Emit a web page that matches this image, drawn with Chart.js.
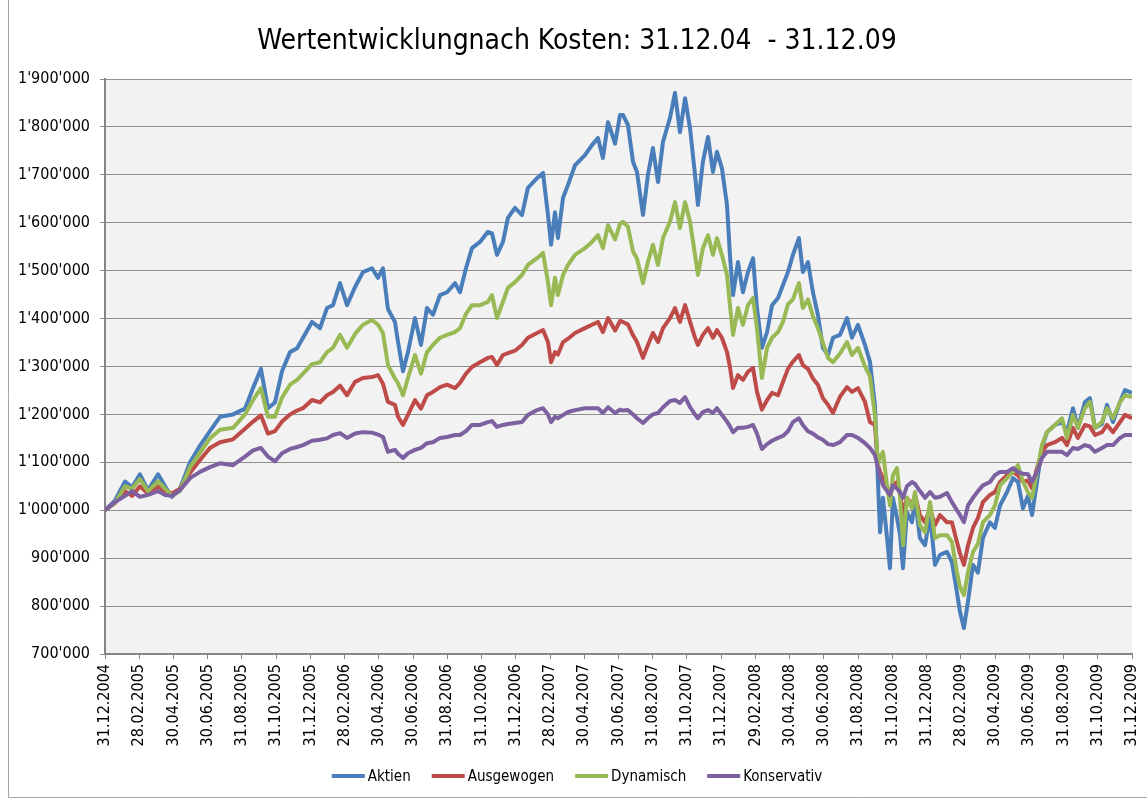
<!DOCTYPE html>
<html>
<head>
<meta charset="utf-8">
<title>Wertentwicklung nach Kosten</title>
<script src="https://cdn.jsdelivr.net/npm/chart.js@4.4.1/dist/chart.umd.min.js"></script>
<style>
  html, body { margin: 0; padding: 0; background: #fff; }
  #wrap { width: 1147px; height: 800px; position: relative; }
</style>
</head>
<body>
<div id="wrap"><canvas id="chart" width="1147" height="800"></canvas></div>
<script>
// Portfolio values in CHF thousands, x = months since 31.12.2004
const months = [
  0, 0.58, 1.17, 1.58, 2.04, 2.51, 3.10, 3.51, 3.91, 4.38,
  4.97, 5.55, 6.13, 6.72, 7.48, 8.18, 8.65, 9.11, 9.52, 9.93,
  10.34, 10.81, 11.22, 11.57, 12.09, 12.56, 12.97, 13.32, 13.73, 14.14,
  14.61, 15.07, 15.60, 15.95, 16.24, 16.53, 16.94, 17.12, 17.41, 17.70,
  18.11, 18.46, 18.81, 19.16, 19.57, 19.98, 20.45, 20.74, 21.09, 21.44,
  21.91, 22.37, 22.61, 22.90, 23.25, 23.54, 23.95, 24.36, 24.71, 25.24,
  25.59, 25.88, 26.06, 26.29, 26.46, 26.76, 27.05, 27.46, 28.04, 28.45,
  28.80, 29.09, 29.39, 29.80, 30.09, 30.26, 30.55, 30.85, 31.08, 31.43,
  31.72, 32.01, 32.31, 32.60, 33.01, 33.30, 33.59, 33.89, 34.18, 34.47,
  34.64, 34.93, 35.23, 35.52, 35.75, 36.04, 36.34, 36.51, 36.69, 36.98,
  37.27, 37.56, 37.86, 38.09, 38.38, 38.68, 38.97, 39.32, 39.61, 39.90,
  40.19, 40.54, 40.77, 41.07, 41.36, 41.65, 41.94, 42.24, 42.53, 42.94,
  43.35, 43.64, 43.99, 44.40, 44.69, 44.98, 45.16, 45.28, 45.45, 45.69,
  45.86, 46.03, 46.27, 46.45, 46.62, 46.85, 47.15, 47.32, 47.61, 47.91,
  48.20, 48.49, 48.78, 49.19, 49.48, 49.77, 49.95, 50.18, 50.42, 50.71,
  51.00, 51.29, 51.70, 51.99, 52.29, 52.70, 53.05, 53.34, 53.63, 53.92,
  54.16, 54.45, 54.74, 55.03, 55.50, 55.91, 56.20, 56.55, 56.84, 57.25,
  57.54, 57.84, 58.25, 58.54, 58.89, 59.30, 59.59, 60
];

const aktien = [
  1000, 1020, 1060, 1048, 1075, 1042, 1075, 1050, 1028, 1045,
  1100, 1135, 1165, 1195, 1200, 1212, 1255, 1295, 1213, 1225,
  1290, 1330, 1338, 1360, 1393, 1380, 1422, 1428, 1474, 1428,
  1466, 1497, 1505, 1485, 1505, 1420, 1393, 1351, 1290, 1330,
  1401, 1345, 1422, 1408, 1449, 1455, 1474, 1455, 1505, 1547,
  1560, 1581, 1578, 1533, 1560, 1610, 1631, 1616, 1673, 1693,
  1704, 1616, 1554, 1622, 1568, 1652, 1679, 1720, 1741, 1762,
  1777, 1735, 1810, 1765, 1825, 1825, 1804, 1727, 1706, 1616,
  1700, 1756, 1685, 1769, 1819, 1871, 1789, 1860, 1797, 1700,
  1637, 1727, 1779, 1706, 1748, 1714, 1637, 1533, 1449, 1518,
  1455, 1497, 1526, 1422, 1339, 1372, 1428, 1443, 1470, 1497,
  1533, 1568, 1497, 1518, 1455, 1408, 1339, 1324, 1360, 1366,
  1401, 1360, 1387, 1345, 1310, 1220, 1058, 954, 1026, 942,
  879, 1026, 984, 948, 879, 996, 975, 1026, 942, 927,
  990, 886, 907, 913, 892, 829, 788, 754, 810, 886,
  870, 942, 975, 963, 1010, 1038, 1067, 1059, 1004, 1030,
  990, 1059, 1130, 1163, 1178, 1184, 1163, 1213, 1172, 1226,
  1234, 1172, 1180, 1220, 1184, 1226, 1251, 1245
];

const ausgewogen = [
  1000, 1015, 1040, 1030, 1050, 1035, 1050, 1040, 1035, 1045,
  1078, 1105, 1130, 1142, 1148, 1170, 1185, 1198, 1160, 1165,
  1185, 1200, 1208, 1213, 1230, 1225, 1240, 1247, 1260, 1240,
  1268, 1276, 1278, 1282, 1264, 1226, 1220, 1195, 1178, 1199,
  1230, 1212, 1240, 1247, 1257, 1262, 1255, 1266, 1285, 1299,
  1309, 1318, 1320, 1303, 1324, 1328, 1333, 1345, 1360, 1370,
  1376, 1351, 1309, 1330, 1325, 1351, 1358, 1370, 1380, 1387,
  1393, 1372, 1401, 1375, 1395, 1393, 1388, 1365, 1351, 1318,
  1345, 1370, 1351, 1380, 1401, 1422, 1393, 1428, 1393, 1360,
  1345, 1366, 1380, 1360, 1376, 1360, 1330, 1299, 1255, 1282,
  1272, 1289, 1297, 1247, 1210, 1230, 1245, 1240, 1268, 1295,
  1310, 1324, 1303, 1295, 1275, 1262, 1234, 1220, 1203, 1237,
  1257, 1247, 1255, 1226, 1184, 1178, 1094, 1080, 1067, 1050,
  1026, 1052, 1059, 1035, 990, 1026, 1010, 1032, 990, 975,
  1004, 969, 990, 975, 975, 934, 910, 886, 927, 963,
  984, 1017, 1032, 1038, 1059, 1073, 1080, 1073, 1059, 1062,
  1046, 1088, 1122, 1136, 1142, 1151, 1136, 1172, 1151, 1178,
  1175, 1157, 1163, 1178, 1163, 1184, 1199, 1192
];

const dynamisch = [
  1000, 1015, 1050, 1045, 1065, 1040, 1060, 1045, 1030, 1040,
  1090, 1120, 1150, 1168, 1172, 1200, 1230, 1255, 1195, 1195,
  1235, 1262, 1272, 1285, 1305, 1309, 1330, 1339, 1366, 1339,
  1368, 1387, 1397, 1387, 1370, 1303, 1275, 1265, 1240, 1276,
  1324, 1285, 1330, 1345, 1360, 1366, 1372, 1380, 1410, 1428,
  1428, 1435, 1449, 1401, 1435, 1464, 1476, 1491, 1512, 1526,
  1537, 1476, 1428, 1485, 1449, 1491, 1512, 1533, 1547, 1560,
  1574, 1547, 1595, 1565, 1598, 1602, 1592, 1540, 1525, 1474,
  1518, 1554, 1512, 1568, 1602, 1643, 1589, 1643, 1602, 1533,
  1491, 1547, 1574, 1533, 1568, 1533, 1491, 1428, 1366, 1422,
  1387, 1428, 1443, 1380, 1276, 1339, 1360, 1372, 1393, 1430,
  1440, 1474, 1422, 1440, 1405, 1380, 1350, 1318, 1309, 1327,
  1351, 1324, 1339, 1300, 1280, 1199, 1094, 1110, 1122, 1050,
  1010, 1073, 1088, 1026, 927, 1026, 1004, 1038, 969, 954,
  1017, 942, 948, 948, 934, 871, 840, 823, 871, 913,
  930, 975, 990, 1010, 1052, 1067, 1080, 1094, 1060, 1038,
  1026, 1080, 1136, 1163, 1178, 1192, 1151, 1199, 1172, 1213,
  1226, 1172, 1184, 1213, 1192, 1226, 1240, 1236
];

const konservativ = [
  1000, 1017, 1030, 1040, 1028, 1032, 1040, 1032, 1030, 1042,
  1067, 1080, 1090, 1098, 1094, 1112, 1125, 1130, 1112, 1102,
  1119, 1128, 1132, 1136, 1145, 1147, 1150, 1157, 1161, 1151,
  1160, 1163, 1162, 1158, 1153, 1122, 1126, 1118, 1109, 1119,
  1126, 1130, 1140, 1142, 1151, 1153, 1157, 1157, 1165, 1178,
  1178, 1184, 1186, 1174, 1178, 1180, 1182, 1184, 1199, 1209,
  1213, 1200, 1184, 1195, 1192, 1199, 1205, 1209, 1213, 1213,
  1213, 1203, 1215, 1203, 1210, 1208, 1209, 1200, 1192, 1182,
  1192, 1200, 1203, 1215, 1228, 1230, 1224, 1236, 1215, 1200,
  1192, 1205, 1209, 1203, 1213, 1199, 1185, 1175, 1163, 1172,
  1172, 1174, 1178, 1160, 1128, 1138, 1145, 1151, 1155, 1165,
  1184, 1192, 1178, 1165, 1160, 1152, 1147, 1138, 1136, 1142,
  1157, 1157, 1151, 1140, 1130, 1115, 1088, 1070, 1052, 1040,
  1032, 1052, 1045, 1038, 1026, 1050, 1059, 1055, 1040, 1026,
  1038, 1026, 1028, 1036, 1017, 1000, 990, 975, 1010, 1026,
  1040, 1052, 1059, 1073, 1080, 1080, 1088, 1080, 1076, 1075,
  1059, 1080, 1109, 1122, 1122, 1122, 1115, 1130, 1128, 1136,
  1133, 1122, 1130, 1136, 1136, 1151, 1157, 1157
];

// tick labels every 2 months
const tickLabels = [
  '31.12.2004', '28.02.2005', '30.04.2005', '30.06.2005', '31.08.2005', '31.10.2005',
  '31.12.2005', '28.02.2006', '30.04.2006', '30.06.2006', '31.08.2006', '31.10.2006',
  '31.12.2006', '28.02.2007', '30.04.2007', '30.06.2007', '31.08.2007', '31.10.2007',
  '31.12.2007', '29.02.2008', '30.04.2008', '30.06.2008', '31.08.2008', '31.10.2008',
  '31.12.2008', '28.02.2009', '30.04.2009', '30.06.2009', '31.08.2009', '31.10.2009',
  '31.12.2009'
];

const chartTitle = 'Wertentwicklungnach Kosten: 31.12.04  - 31.12.09';

const FONT = '"DejaVu Sans Condensed", "Liberation Sans", sans-serif';

const seriesList = [
  { label: 'Aktien', values: aktien, color: '#4A7EBB', order: 4 },
  { label: 'Ausgewogen', values: ausgewogen, color: '#BE4B48', order: 3 },
  { label: 'Dynamisch', values: dynamisch, color: '#98B954', order: 2 },
  { label: 'Konservativ', values: konservativ, color: '#7D60A0', order: 1 }
];

function formatThousands(v) {
  return String(Math.round(v * 1000)).replace(/\B(?=(\d{3})+(?!\d))/g, "'");
}

// plot background, outer frame, title and legend
const decorPlugin = {
  id: 'decor',
  beforeDraw(chart) {
    const { ctx, chartArea } = chart;
    ctx.save();
    ctx.fillStyle = '#f2f2f2';
    ctx.fillRect(chartArea.left, chartArea.top, chartArea.right - chartArea.left, chartArea.bottom - chartArea.top);
    ctx.strokeStyle = '#a6a6a6';
    ctx.lineWidth = 1;
    ctx.beginPath();
    ctx.moveTo(8.5, 0);
    ctx.lineTo(8.5, 797.5);
    ctx.lineTo(1147, 797.5);
    ctx.stroke();
    ctx.restore();
  },
  afterDraw(chart) {
    const ctx = chart.ctx;
    ctx.save();
    ctx.fillStyle = '#000';
    ctx.textBaseline = 'middle';
    ctx.textAlign = 'center';
    ctx.font = '28px ' + FONT;
    ctx.fillText(chartTitle, 577, 42);

    ctx.textAlign = 'left';
    ctx.font = '15px ' + FONT;
    const lineLen = 33, gap = 3, itemGap = 21;
    const widths = seriesList.map(s => lineLen + gap + ctx.measureText(s.label).width);
    const total = widths.reduce((a, b) => a + b, 0) + itemGap * (seriesList.length - 1);
    let x = 577 - total / 2;
    const y = 776;
    seriesList.forEach((s, i) => {
      ctx.strokeStyle = s.color;
      ctx.lineWidth = 4;
      ctx.beginPath();
      ctx.moveTo(x, y);
      ctx.lineTo(x + lineLen, y);
      ctx.stroke();
      ctx.fillStyle = '#000';
      ctx.fillText(s.label, x + lineLen + gap, y + 1);
      x += widths[i] + itemGap;
    });
    ctx.restore();
  }
};

const ctx = document.getElementById('chart').getContext('2d');
new Chart(ctx, {
  type: 'line',
  data: {
    datasets: seriesList.map(s => ({
      label: s.label,
      data: months.map((m, i) => ({ x: m, y: s.values[i] })),
      borderColor: s.color,
      backgroundColor: s.color,
      borderWidth: 4,
      borderJoinStyle: 'round',
      pointRadius: 0,
      tension: 0,
      order: s.order
    }))
  },
  options: {
    responsive: false,
    animation: false,
    layout: { padding: { left: 0, right: 15, top: 79, bottom: 0 } },
    plugins: {
      legend: { display: false },
      tooltip: { enabled: false },
      title: { display: false }
    },
    scales: {
      x: {
        type: 'linear',
        min: 0,
        max: 60,
        afterBuildTicks(scale) {
          scale.ticks = tickLabels.map((_, i) => ({ value: i * 2 }));
        },
        afterFit(scale) {
          scale.height = 146;
          scale.paddingLeft = 0;
          scale.paddingRight = 0;
        },
        grid: { drawOnChartArea: false, drawTicks: true, tickLength: 5, color: '#868686' },
        border: { color: '#868686', width: 2 },
        ticks: {
          autoSkip: false,
          minRotation: 90,
          maxRotation: 90,
          padding: 5,
          color: '#000',
          font: { family: FONT, size: 16 },
          callback: v => tickLabels[Math.round(v / 2)]
        }
      },
      y: {
        min: 700,
        max: 1900,
        afterFit(scale) {
          scale.width = 105;
          scale.paddingTop = 0;
          scale.paddingBottom = 0;
        },
        grid: { color: '#8f8f8f', lineWidth: 1, tickLength: 5 },
        border: { color: '#868686', width: 2 },
        ticks: {
          stepSize: 100,
          padding: 10,
          color: '#000',
          font: { family: FONT, size: 16 },
          callback: v => formatThousands(v)
        }
      }
    }
  },
  plugins: [decorPlugin]
});
</script>
</body>
</html>
